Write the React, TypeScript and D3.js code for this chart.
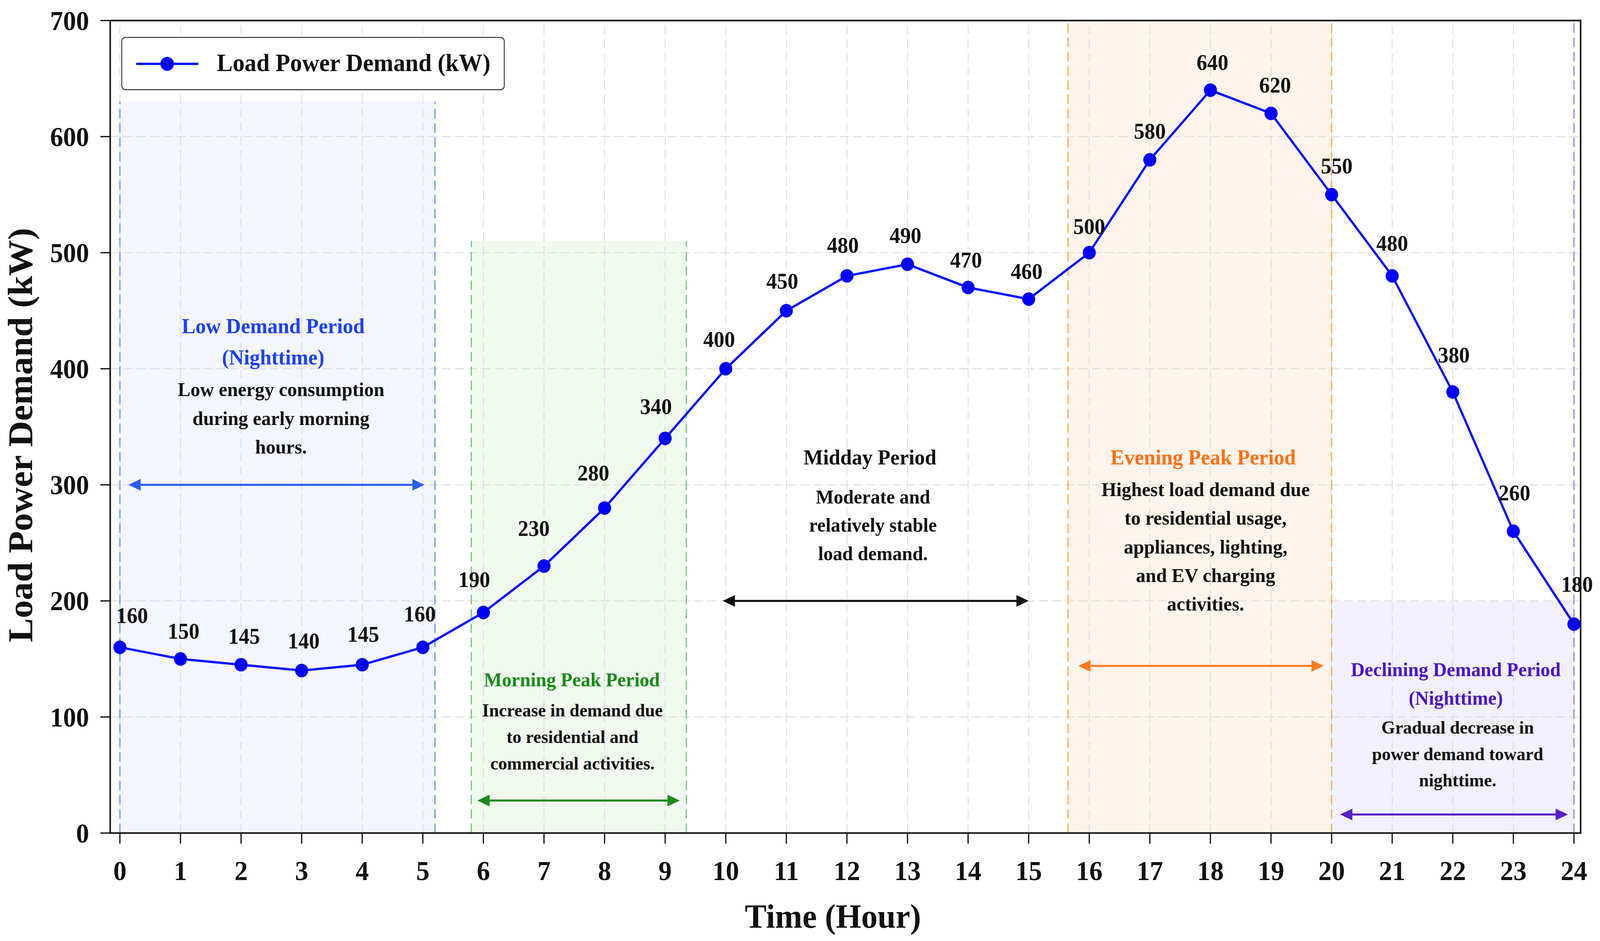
import * as React from 'react';
import {useEffect, useRef} from 'react';
import * as d3 from 'd3';

// drawn in a 1568-wide user space that is stretched over the whole page
const WIDTH = 4249;
const HEIGHT = 2409;
const VW = 1568;
const VH = HEIGHT * VW / WIDTH;
const FONT = "'Liberation Serif', 'Times New Roman', serif";

const hours = [0, 1, 2, 3, 4, 5, 6, 7, 8, 9, 10, 11, 12, 13, 14, 15, 16, 17, 18, 19, 20, 21, 22, 23, 24];
const demand = [160, 150, 145, 140, 145, 160, 190, 230, 280, 340, 400, 450, 480, 490, 470, 460, 500, 580, 640, 620, 550, 480, 380, 260, 180];
const yTicks = [0, 100, 200, 300, 400, 500, 600, 700];

// value label nudges [dx, rise of baseline above the point]
const labelNudge = [
  [12, 23], [3, 19], [3, 20], [2, 21], [1, 21.5], [-3, 24.5], [-9, 24], [-10, 28.5], [-11, 26],
  [-9, 23], [-6.5, 20.5], [-4, 21], [-4, 22], [-2, 20], [-2, 19], [-2, 19], [0, 17.5], [0, 20],
  [2, 19.3], [4, 19.5], [5, 20], [0, 23.7], [1, 28], [1, 29], [3, 30.7]
];

// shaded periods
const spanStart = [0, 5.8, 15.65, 20];
const spanEnd = [5.2, 9.35, 20, 24];
const spanTop = [630, 510, 700, 200];
const spanFill = ['#f3f6fd', '#f0f9ee', '#fef4eb', '#f2f0fd'];
const edgeX = [0, 5.2, 5.8, 9.35, 15.65, 20, 24];
const edgeTop = [630, 630, 510, 510, 700, 700, 700];
const edgeColor = ['#6a98ee', '#6a98ee', '#80c28a', '#80c28a', '#ffa855', '#ffa855', '#9f84e4'];

// double-headed arrows
const arrowStart = [0.14, 5.9, 9.95, 15.82, 20.14];
const arrowEnd = [5.03, 9.24, 15.0, 19.87, 23.9];
const arrowLevel = [300, 28, 200, 144, 16];
const arrowColor = ['#2a5df2', '#1e8a1e', '#111111', '#ff7a1e', '#5520cc'];

const notes = [
  {title: ['Low Demand Period', '(Nighttime)'], body: ['Low energy consumption', 'during early morning', 'hours.'],
    tx: 2.53, ty: 430.5, bx: 2.66, by: 376.3, tf: 20.3, bf: 18.8, color: '#1f3ff5'},
  {title: ['Morning Peak Period'], body: ['Increase in demand due', 'to residential and', 'commercial activities.'],
    tx: 7.46, ty: 126.4, bx: 7.47, by: 100.5, tf: 18.7, bf: 17.4, color: '#1a8a1a'},
  {title: ['Midday Period'], body: ['Moderate and', 'relatively stable', 'load demand.'],
    tx: 12.38, ty: 317.4, bx: 12.43, by: 284, tf: 20.3, bf: 18.6, color: '#111111'},
  {title: ['Evening Peak Period'], body: ['Highest load demand due', 'to residential usage,', 'appliances, lighting,', 'and EV charging', 'activities.'],
    tx: 17.88, ty: 317.4, bx: 17.92, by: 290.3, tf: 20.3, bf: 18.8, color: '#ff6f14'},
  {title: ['Declining Demand Period', '(Nighttime)'], body: ['Gradual decrease in', 'power demand toward', 'nighttime.'],
    tx: 22.05, ty: 135.1, bx: 22.08, by: 85.8, tf: 18.7, bf: 17.4, color: '#4c14c8'}
];

const App = () => {
  const ref = useRef<SVGSVGElement>(null);

  useEffect(() => {
    const svg = d3.select(ref.current);
    svg.selectAll('*').remove();

    const x = d3.scaleLinear().domain([-0.16, 24.11]).range([108, 1549]);
    const y = d3.scaleLinear().domain([0, 700]).range([787, 19.4]);

    const g = svg.append('g').style('font-family', FONT).style('font-weight', 'bold');

    g.append('rect').attr('width', VW).attr('height', VH).attr('fill', '#fff');

    // background spans
    g.append('g').selectAll('rect')
      .data(spanStart)
      .join('rect')
      .attr('x', (d) => x(d))
      .attr('width', (d, i) => x(spanEnd[i]) - x(d))
      .attr('y', (d, i) => y(spanTop[i]))
      .attr('height', (d, i) => y(0) - y(spanTop[i]))
      .attr('fill', (d, i) => spanFill[i]);

    // grid
    const grid = g.append('g').attr('stroke', '#d8d8d8').attr('stroke-width', 0.9)
      .attr('stroke-dasharray', '9,4').attr('opacity', 0.8);
    grid.selectAll('.gx')
      .data(hours)
      .join('line')
      .attr('class', 'gx')
      .attr('x1', (d) => x(d)).attr('x2', (d) => x(d))
      .attr('y1', y(0)).attr('y2', y(700));
    grid.selectAll('.gy')
      .data(yTicks.slice(1, -1))
      .join('line')
      .attr('class', 'gy')
      .attr('x1', x.range()[0]).attr('x2', x.range()[1])
      .attr('y1', (d) => y(d)).attr('y2', (d) => y(d));

    // span edges
    g.append('g').selectAll('line')
      .data(edgeX)
      .join('line')
      .attr('x1', (d) => x(d)).attr('x2', (d) => x(d))
      .attr('y1', y(0)).attr('y2', (d, i) => y(edgeTop[i]))
      .attr('stroke', (d, i) => edgeColor[i])
      .attr('stroke-width', 1.2)
      .attr('stroke-dasharray', '9,4.5');

    // arrows
    const head = 12;
    const half = 5.5;
    const arrows = g.append('g');
    arrowStart.forEach((s, i) => {
      const x0 = x(s);
      const x1 = x(arrowEnd[i]);
      const yy = y(arrowLevel[i]);
      const c = arrowColor[i];
      arrows.append('line')
        .attr('x1', x0 + head - 1).attr('x2', x1 - head + 1)
        .attr('y1', yy).attr('y2', yy)
        .attr('stroke', c).attr('stroke-width', 1.9);
      arrows.append('path')
        .attr('d', `M${x0},${yy}L${x0 + head},${yy - half}L${x0 + head},${yy + half}Z`)
        .attr('fill', c);
      arrows.append('path')
        .attr('d', `M${x1},${yy}L${x1 - head},${yy - half}L${x1 - head},${yy + half}Z`)
        .attr('fill', c);
    });

    // demand line
    const line = d3.line<number>()
      .x((d, i) => x(hours[i]))
      .y((d) => y(d));
    g.append('path')
      .datum(demand)
      .attr('d', line)
      .attr('fill', 'none')
      .attr('stroke', '#0a10ff')
      .attr('stroke-width', 2.2);
    g.append('g').selectAll('circle')
      .data(demand)
      .join('circle')
      .attr('cx', (d, i) => x(hours[i]))
      .attr('cy', (d) => y(d))
      .attr('r', 6.4)
      .attr('fill', '#0000ff');

    // value labels
    g.append('g').selectAll('text')
      .data(demand)
      .join('text')
      .attr('x', (d, i) => x(hours[i]) + labelNudge[i][0])
      .attr('y', (d, i) => y(d) - labelNudge[i][1])
      .attr('text-anchor', 'middle')
      .attr('font-size', 20.8)
      .attr('fill', '#111')
      .text((d) => d);

    // period notes
    notes.forEach((n) => {
      const tl = n.tf * 1.44;
      const bl = n.bf * 1.44;
      n.title.forEach((t, k) => {
        g.append('text')
          .attr('x', x(n.tx)).attr('y', y(n.ty) + k * tl)
          .attr('text-anchor', 'middle')
          .attr('font-size', n.tf)
          .attr('fill', n.color)
          .text(t);
      });
      n.body.forEach((t, k) => {
        g.append('text')
          .attr('x', x(n.bx)).attr('y', y(n.by) + k * bl)
          .attr('text-anchor', 'middle')
          .attr('font-size', n.bf)
          .attr('fill', '#111')
          .text(t);
      });
    });

    // frame
    g.append('rect')
      .attr('x', x.range()[0]).attr('y', y(700))
      .attr('width', x.range()[1] - x.range()[0])
      .attr('height', y(0) - y(700))
      .attr('fill', 'none')
      .attr('stroke', '#111')
      .attr('stroke-width', 1.5);

    // x axis
    const xAxis = g.append('g');
    xAxis.selectAll('line')
      .data(hours)
      .join('line')
      .attr('x1', (d) => x(d)).attr('x2', (d) => x(d))
      .attr('y1', y(0)).attr('y2', y(0) + 10)
      .attr('stroke', '#111').attr('stroke-width', 1.2);
    xAxis.selectAll('text')
      .data(hours)
      .join('text')
      .attr('x', (d) => x(d)).attr('y', 831.3)
      .attr('text-anchor', 'middle')
      .attr('font-size', 26)
      .attr('fill', '#111')
      .text((d) => d);

    // y axis
    const yAxis = g.append('g');
    yAxis.selectAll('line')
      .data(yTicks)
      .join('line')
      .attr('x1', x.range()[0] - 9.6).attr('x2', x.range()[0])
      .attr('y1', (d) => y(d)).attr('y2', (d) => y(d))
      .attr('stroke', '#111').attr('stroke-width', 1.2);
    yAxis.selectAll('text')
      .data(yTicks)
      .join('text')
      .attr('x', 87.3).attr('y', (d) => y(d))
      .attr('dy', '0.35em')
      .attr('text-anchor', 'end')
      .attr('font-size', 25.5)
      .attr('fill', '#111')
      .text((d) => d);

    g.append('text')
      .attr('x', 816.3).attr('y', 876.5)
      .attr('text-anchor', 'middle')
      .attr('font-size', 32)
      .attr('fill', '#111')
      .text('Time (Hour)');
    g.append('text')
      .attr('transform', 'translate(31.4,411) rotate(-90)')
      .attr('text-anchor', 'middle')
      .attr('font-size', 34)
      .attr('fill', '#111')
      .text('Load Power Demand (kW)');

    // legend
    const lg = g.append('g');
    lg.append('rect')
      .attr('x', 119.3).attr('y', 35.4)
      .attr('width', 374.9).attr('height', 49.3)
      .attr('rx', 3.5)
      .attr('fill', '#fff')
      .attr('stroke', '#444')
      .attr('stroke-width', 1);
    lg.append('line')
      .attr('x1', 133.4).attr('x2', 194.4)
      .attr('y1', 60.3).attr('y2', 60.3)
      .attr('stroke', '#0a10ff').attr('stroke-width', 2.2);
    lg.append('circle')
      .attr('cx', 163.8).attr('cy', 60.3).attr('r', 6.6)
      .attr('fill', '#0000ff');
    lg.append('text')
      .attr('x', 212.5).attr('y', 67.3)
      .attr('font-size', 23.3)
      .attr('fill', '#111')
      .text('Load Power Demand (kW)');
  }, []);

  return (
    <svg
      ref={ref}
      viewBox={`0 0 ${VW} ${VH}`}
      preserveAspectRatio="none"
      style={{position: 'fixed', left: 0, top: 0, width: '100vw', height: '100vh', display: 'block', background: '#fff'}}
    />
  );
};

export default App;
